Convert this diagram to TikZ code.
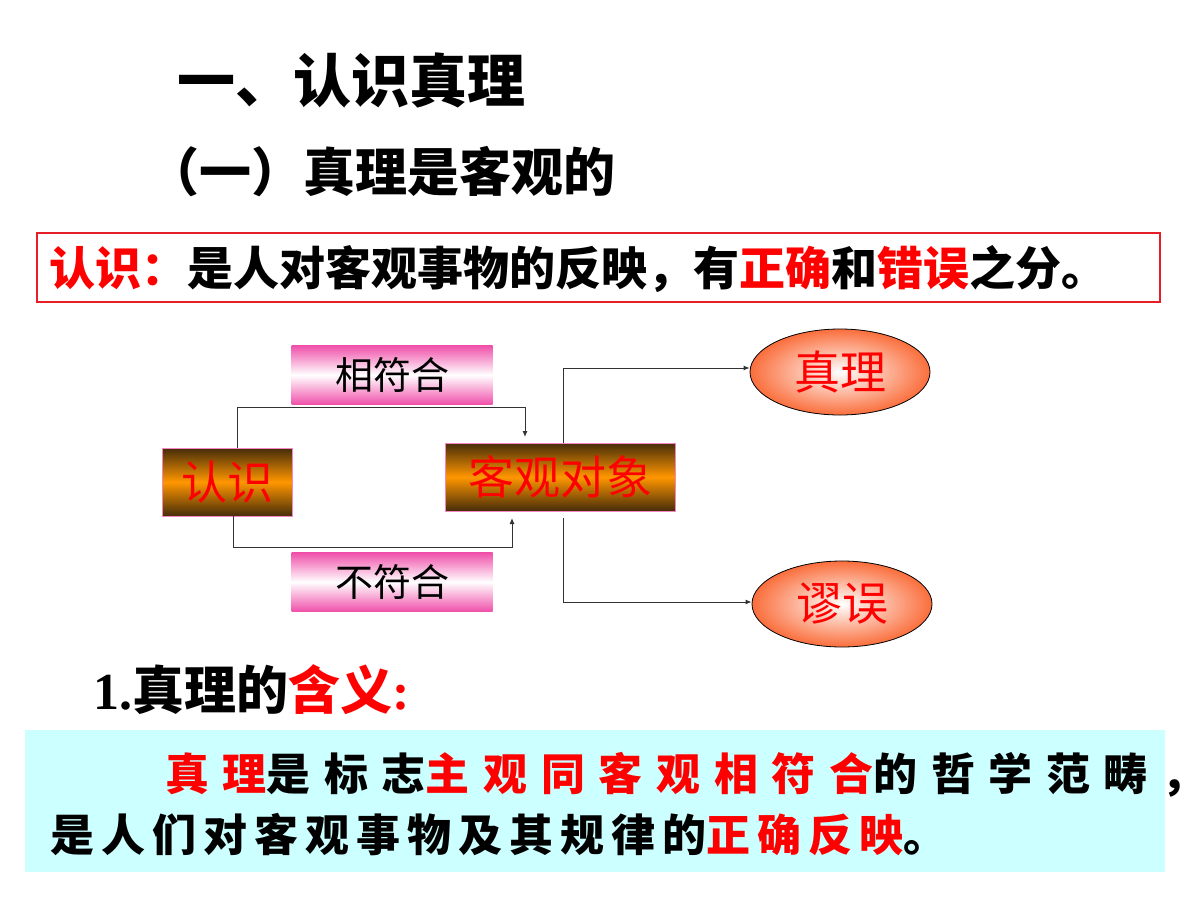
\documentclass[tikz,border=0pt]{standalone}
\usepackage{fontspec}
\setmainfont{Liberation Serif}
\newfontfamily\cjk{Noto Sans CJK SC}
\newcommand\cjkb{\cjk\bfseries}
\usetikzlibrary{positioning,shapes.geometric,arrows.meta}
\definecolor{boxred}{RGB}{230,30,40}
\definecolor{txtred}{RGB}{255,0,0}
\definecolor{darkbrown}{RGB}{70,45,10}
\definecolor{midorange}{RGB}{255,150,0}
\definecolor{pinkbar}{RGB}{240,80,170}
\definecolor{ovalred}{RGB}{250,110,60}
\definecolor{lightcyan}{RGB}{204,255,255}
\tikzset{
  pinkbox/.style={minimum width=100.5pt,minimum height=29.5pt,inner sep=0pt,
    top color=pinkbar,bottom color=pinkbar,middle color=white,
    font=\cjk\fontsize{19pt}{19pt}\selectfont},
  brownbox/.style={draw=pinkbar!70,inner sep=0pt,minimum height=34pt,
    top color=darkbrown,bottom color=darkbrown,middle color=midorange,
    text=txtred,font=\cjk\fontsize{23pt}{23pt}\selectfont},
  oval/.style={ellipse,draw=black,minimum width=90pt,minimum height=43pt,inner sep=0pt,
    inner color=white,outer color=ovalred,text=txtred,
    font=\cjk\fontsize{23pt}{23pt}\selectfont},
  link/.style={draw=black!80,line width=0.5pt,-{Latex[length=3pt,width=2.5pt]}},
}
\begin{document}
\begin{tikzpicture}[x=0.5pt,y=-0.5pt]
\useasboundingbox (0,0) rectangle (1200,900);
% headings
\node[anchor=west,font=\cjkb\fontsize{29pt}{29pt}\selectfont] (title) at (170,80) {一、认识真理};
\node[anchor=west,font=\cjkb\fontsize{26pt}{26pt}\selectfont] (sub) at (140,172) {（一）真理是客观的};
% definition box
\draw[boxred,line width=1pt] (37,233) rectangle (1160,302);
\node[anchor=west,font=\cjkb\fontsize{23pt}{23pt}\selectfont] (defn) at (42,269)
  {\textcolor{txtred}{认识：}是人对客观事物的反映，有\textcolor{txtred}{正确}和\textcolor{txtred}{错误}之分。};
% diagram
\node[pinkbox] (fit) at (392,375) {相符合};
\node[pinkbox] (nofit) at (392,582) {不符合};
\node[brownbox,minimum width=65pt] (know) at (227,482) {认识};
\node[brownbox,minimum width=115pt] (obj) at (560,477) {客观对象};
\node[oval] (truth) at (840,372) {真理};
\node[oval] (error) at (842,604) {谬误};
\coordinate (ka) at (237,407);
\coordinate (kb) at (233,547);
\draw[link] (know.north -| ka) -- (ka) -- (525,407) -- (525,437);
\draw[link] (know.south -| kb) -- (kb) -- (512,547) -- (512,518);
\draw[link] (563,443) -- (563,368) -- (truth.west |- 0,368);
\draw[link] (563,518) -- (563,602) -- (error.west |- 0,602);
% meaning
\node[anchor=west,font=\cjkb\fontsize{26pt}{26pt}\selectfont] (mean) at (86,690)
  {{\rmfamily\bfseries 1.}真理的\textcolor{txtred}{含义}\textcolor{txtred}{\rmfamily\bfseries :}};
\fill[lightcyan] (25,730) rectangle (1165,872);
\node[anchor=west,font=\cjkb\fontsize{22pt}{22pt}\selectfont\addfontfeature{LetterSpace=31}] (line1) at (158,775)
  {\textcolor{txtred}{真理}是标志\textcolor{txtred}{主观同客观相符合}的哲学范畴，};
\node[anchor=west,font=\cjkb\fontsize{22pt}{22pt}\selectfont\addfontfeature{LetterSpace=16}] (line2) at (43,835)
  {是人们对客观事物及其规律的\textcolor{txtred}{正确反映}。};
\end{tikzpicture}
\end{document}
